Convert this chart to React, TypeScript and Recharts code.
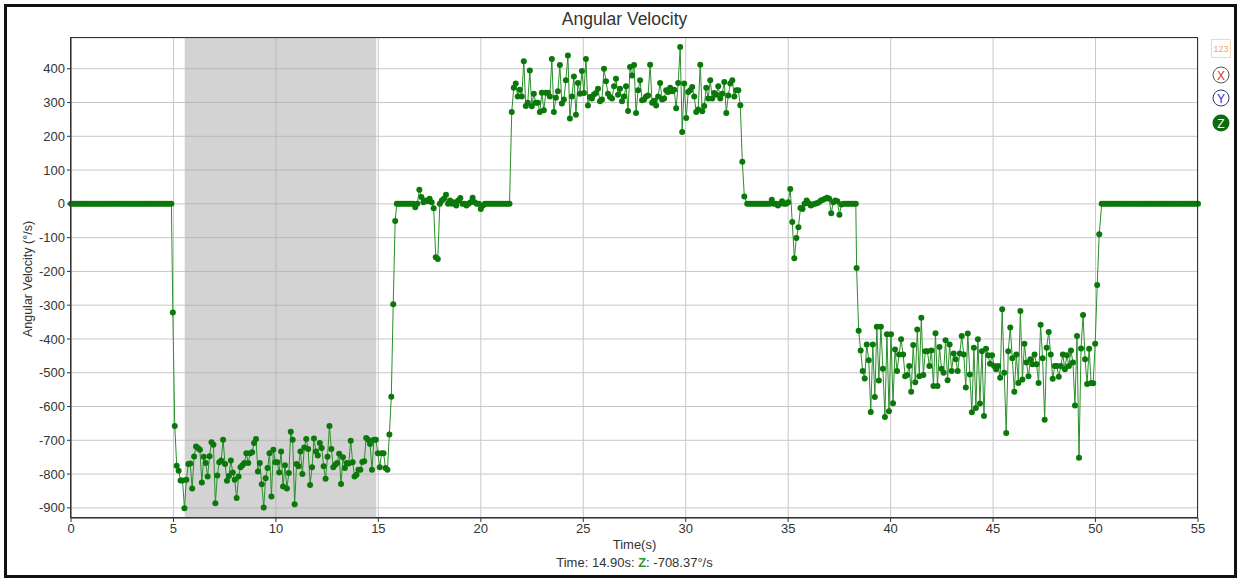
import { LineChart, Line, XAxis, YAxis, CartesianGrid, ReferenceArea } from "recharts";

const FONT = "'Liberation Sans', Arial, sans-serif";

const X_TICKS = [0, 5, 10, 15, 20, 25, 30, 35, 40, 45, 50, 55];
const Y_TICKS = [-900, -800, -700, -600, -500, -400, -300, -200, -100, 0, 100, 200, 300, 400];

// Z angular velocity (°/s)
const HOLD_START = [
  0, 0, 0, 0, 0, 0, 0, 0, 0, 0, 0, 0, 0, 0, 0, 0, 0, 0, 0, 0, 0, 0, 0, 0, 0,
  0, 0, 0, 0, 0, 0, 0, 0, 0, 0, 0, 0, 0, 0, 0, 0, 0, 0, 0, 0, 0, 0, 0, 0, 0,
];

const SPIN_NEG = [
  -322, -658, -775, -790, -819, -819, -901, -817, -770, -769, -843, -748, -718, -723, -728, -825, -749, -767, -807, -747,
  -706, -713, -886, -804, -765, -760, -698, -770, -820, -806, -760, -795, -817, -871, -807, -780, -774, -767, -738, -767,
  -738, -735, -708, -696, -792, -767, -830, -899, -812, -782, -738, -866, -728, -765, -765, -795, -733, -837, -774, -843,
  -797, -675, -698, -889, -770, -777, -733, -800, -721, -696, -726, -832, -780, -695, -733, -745, -708, -723, -777, -814,
  -749, -658, -726, -780, -772, -767, -740, -829, -750, -782, -767, -769, -701, -765, -807, -802, -787, -787, -764, -762,
  -693, -698, -711, -787, -698, -698, -738, -780, -738, -738, -782, -787, -683, -571, -297, -51,
];

const REST_1 = [
  0, 0, 0, 0, 0, 0, 0, 0, 0, -10, 0, 42, 20, 5, 10, 8, 15, 5, -13, -158,
  -163, 0, 10, 15, 27, 0, 10, 0, 5, -5, 10, 17, 0, 0, -5, 0, 5, 18, 5, 0,
  0, -15, -5, 0, 0, 0, 0, 0, 0, 0, 0, 0, 0, 0, 0, 0,
];

const SPIN_POS = [
  272, 344, 356, 318, 338, 318, 422, 290, 299, 395, 289, 326, 299, 299, 272, 329, 277, 329, 329, 318,
  429, 272, 314, 333, 411, 297, 309, 366, 439, 253, 318, 377, 264, 358, 326, 393, 328, 429, 291, 316,
  312, 324, 328, 341, 304, 309, 400, 363, 326, 316, 312, 348, 370, 323, 341, 304, 318, 348, 275, 405,
  380, 411, 269, 336, 366, 307, 309, 318, 321, 412, 299, 305, 291, 318, 358, 309, 312, 336, 331, 344,
  333, 338, 283, 358, 464, 213, 356, 254, 331, 336, 346, 318, 272, 279, 412, 274, 290, 344, 312, 366,
  312, 328, 323, 348, 312, 326, 361, 269, 321, 356, 366, 318, 336, 336, 292, 125, 22,
];

const REST_2 = [
  0, 0, 0, 0, 0, 0, 0, 0, 0, 0, 0, 0, 12, 0, 0, -5, 0, 8, 0, 0,
  5, 44, -54, -161, -101, -69, -12, -15, 0, 10, 2, -5, -2, 0, 2, 5, 10, 12, 15, 18,
  15, -28, 5, 10, 8, -32, -2, 0, 0, 0, 0, 0, 0, 0,
];

const SPIN_NEG2 = [
  -190, -376, -434, -495, -517, -416, -463, -616, -416, -572, -364, -523, -364, -488, -631, -386, -614, -386, -590, -431,
  -495, -446, -401, -446, -510, -507, -480, -556, -418, -528, -372, -510, -337, -507, -436, -436, -480, -434, -539, -383,
  -539, -424, -488, -500, -404, -522, -416, -495, -443, -460, -495, -443, -391, -446, -544, -384, -505, -617, -426, -604,
  -401, -591, -436, -628, -429, -448, -473, -448, -480, -490, -480, -515, -312, -500, -678, -436, -366, -457, -556, -446,
  -530, -317, -520, -414, -470, -510, -460, -475, -446, -475, -530, -358, -457, -639, -426, -379, -446, -518, -480, -480,
  -512, -480, -446, -490, -448, -480, -434, -470, -597, -391, -752, -428, -329, -460, -533, -429, -530, -531, -414, -240,
  -90,
];

const HOLD_END = [
  0, 0, 0, 0, 0, 0, 0, 0, 0, 0, 0, 0, 0, 0, 0, 0, 0, 0, 0, 0, 0, 0, 0, 0,
  0, 0, 0, 0, 0, 0, 0, 0, 0, 0, 0, 0, 0, 0, 0, 0, 0, 0, 0, 0, 0, 0, 0, 0,
];

// start / end time (s) of each sampled segment
const SEGMENTS = [
  { start: 0, end: 4.9, values: HOLD_START },
  { start: 4.97, end: 15.82, values: SPIN_NEG },
  { start: 15.9, end: 21.4, values: REST_1 },
  { start: 21.51, end: 32.86, values: SPIN_POS },
  { start: 33.0, end: 38.3, values: REST_2 },
  { start: 38.34, end: 50.18, values: SPIN_NEG2 },
  { start: 50.3, end: 55, values: HOLD_END },
];

const SELECTION = [5.55, 14.9];

function LegendIcons() {
  return (
    <svg width={30} height={110} style={{ position: "absolute", left: 1206, top: 36 }}>
      <rect x={5.5} y={3.5} width={19} height={18} fill="#fff" stroke="#f5d5b5" />
      <text x={15} y={16} textAnchor="middle" fontSize={9} fill="#f0a860" fontFamily={FONT}>123</text>
      <circle cx={15} cy={39} r={8} fill="#fff" stroke="#555" />
      <text x={15} y={43.5} textAnchor="middle" fontSize={12} fill="#e03030" fontFamily={FONT}>X</text>
      <circle cx={15} cy={62} r={8} fill="#fff" stroke="#33337a" />
      <text x={15} y={66.5} textAnchor="middle" fontSize={12} fill="#2a2ad0" fontFamily={FONT}>Y</text>
      <circle cx={15} cy={87} r={8.5} fill="#0e6b0e" />
      <text x={15} y={91.5} textAnchor="middle" fontSize={12} fill="#fff" fontFamily={FONT}>Z</text>
    </svg>
  );
}

export default function App() {
  const data = SEGMENTS.flatMap((seg) => {
    const step = (seg.end - seg.start) / (seg.values.length - 1);
    return seg.values.map((v, i) => ({ t: seg.start + i * step, v }));
  });

  return (
    <div style={{ position: "absolute", left: 0, top: 0, width: 1241, height: 580, background: "#fff", fontFamily: FONT, overflow: "hidden" }}>
      <div style={{ position: "absolute", left: 0, top: 0 }}>
        <LineChart width={1241} height={580} data={data} margin={{ top: 38, right: 43, bottom: 32, left: 0 }}>
          <CartesianGrid stroke="#c8c8c8" />
          <ReferenceArea x1={SELECTION[0]} x2={SELECTION[1]} fill="#a8a8a8" fillOpacity={0.5} stroke="none" />
          <XAxis
            type="number"
            dataKey="t"
            domain={[0, 55]}
            ticks={X_TICKS}
            interval={0}
            tick={{ fill: "#333", fontSize: 13 }}
            tickSize={4}
            tickLine={{ stroke: "#333" }}
            axisLine={{ stroke: "#333" }}
            height={30}
          />
          <YAxis
            type="number"
            domain={[-930, 491]}
            ticks={Y_TICKS}
            interval={0}
            width={71}
            tick={{ fill: "#333", fontSize: 13 }}
            tickSize={4}
            tickLine={{ stroke: "#333" }}
            axisLine={{ stroke: "#333" }}
          />
          <Line
            type="linear"
            dataKey="v"
            stroke="#2a8f2a"
            strokeWidth={1}
            dot={{ r: 3, fill: "#0b780b", stroke: "none" }}
            isAnimationActive={false}
          />
        </LineChart>
      </div>
      <div style={{ position: "absolute", left: 70, top: 37, width: 1128, height: 481, border: "1px solid #333", boxSizing: "border-box", pointerEvents: "none" }} />
      <div style={{ position: "absolute", left: 4, top: 9, width: 1241, textAlign: "center", fontSize: 17.5, color: "#333" }}>Angular Velocity</div>
      <div style={{ position: "absolute", left: 28, top: 280, width: 0, height: 0 }}>
        <div style={{ position: "absolute", left: -150, top: -8, width: 300, textAlign: "center", fontSize: 12.5, color: "#333", transform: "rotate(-90deg)" }}>
          Angular Velocity (°/s)
        </div>
      </div>
      <div style={{ position: "absolute", left: 71, top: 537, width: 1127, textAlign: "center", fontSize: 13, color: "#333" }}>Time(s)</div>
      <div style={{ position: "absolute", left: 71, top: 555, width: 1127, textAlign: "center", fontSize: 13, color: "#333" }}>
        Time: 14.90s: <b style={{ color: "#2a9a2a" }}>Z</b>: -708.37°/s
      </div>
      <LegendIcons />
      <div style={{ position: "absolute", left: 4, top: 4, width: 1233, height: 574, border: "3px solid #111", boxSizing: "border-box", pointerEvents: "none" }} />
    </div>
  );
}
